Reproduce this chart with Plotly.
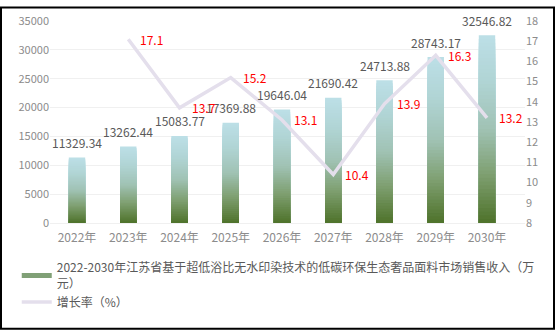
import plotly.graph_objects as go
import numpy as np

categories = ["2022年", "2023年", "2024年", "2025年", "2026年", "2027年", "2028年", "2029年", "2030年"]
revenue = [11329.34, 13262.44, 15083.77, 17369.88, 19646.04, 21690.42, 24713.88, 28743.17, 32546.82]
growth_years = ["2023年", "2024年", "2025年", "2026年", "2027年", "2028年", "2029年", "2030年"]
growth = [17.1, 13.7, 15.2, 13.1, 10.4, 13.9, 16.3, 13.2]

bar_name = "2022-2030年江苏省基于超低浴比无水印染技术的低碳环保生态奢品面料市场销售收入（万<br>元）"
line_name = "增长率（%）"

FONT = "Microsoft YaHei, Noto Sans CJK SC, sans-serif"

# gradient stops (fraction of bar height from bottom -> colour)
stops = [(0.0, (78, 114, 42)), (0.25, (125, 158, 110)), (0.5, (160, 194, 180)), (0.75, (176, 212, 212)), (1.0, (188, 223, 231))]

def grad_color(t):
    for (t0, c0), (t1, c1) in zip(stops[:-1], stops[1:]):
        if t <= t1:
            f = (t - t0) / (t1 - t0) if t1 > t0 else 0
            c = [round(a + (b - a) * f) for a, b in zip(c0, c1)]
            return "rgb(%d,%d,%d)" % tuple(c)
    return "rgb(%d,%d,%d)" % stops[-1][1]

N = 50
rev = np.array(revenue)
fig = go.Figure()
# overlaid bars, tallest (top colour) first, each shorter one drawn on top -> vertical gradient
for k in range(N):
    frac = (N - k) / N
    t = (N - k - 0.5) / N
    fig.add_trace(go.Bar(
        x=categories, y=rev * frac,
        marker=dict(color=grad_color(t), line=dict(width=0)),
        width=0.32, name=bar_name, legendgroup="bar",
        showlegend=False, hoverinfo="skip",
    ))

# legend entry for the bar series (thin wide swatch like the reference)
fig.add_trace(go.Scatter(
    x=[None], y=[None], mode="lines", name=bar_name, legendgroup="bar",
    line=dict(color="rgb(128,160,118)", width=5), hoverinfo="skip",
))

for xv, v in zip(categories, revenue):
    fig.add_annotation(x=xv, y=v, text=f"{v:.2f}", showarrow=False,
                       xanchor="center", yanchor="middle", yshift=15,
                       font=dict(family=FONT, size=12, color="#595959"))

fig.add_trace(go.Scatter(
    x=growth_years, y=growth, mode="lines", yaxis="y2", name=line_name,
    line=dict(color="#e4dfec", width=3.5),
))

for xv, yv in zip(growth_years, growth):
    fig.add_annotation(x=xv, y=yv, yref="y2", text=f"{yv}", showarrow=False,
                       xanchor="left", yanchor="middle", xshift=10,
                       font=dict(family=FONT, size=12, color="#ff0000"))

fig.update_layout(
    width=555, height=333,
    margin=dict(l=50, r=30, t=15, b=110),
    paper_bgcolor="white", plot_bgcolor="white",
    barmode="overlay", bargap=0.68,
    font=dict(family=FONT, size=12, color="#595959"),
    xaxis=dict(type="category", categoryorder="array", categoryarray=categories,
               showgrid=False, showline=True, linecolor="#f0f0f0", ticks="",
               tickfont=dict(size=12, color="#8c8c8c"), ticklabelstandoff=4),
    yaxis=dict(range=[0, 35000], dtick=5000, tickformat="d", showgrid=True, gridcolor="#f0f0f0",
               zeroline=False, tickfont=dict(size=11, color="#8c8c8c"), ticks=""),
    yaxis2=dict(range=[8, 18], dtick=1, overlaying="y", side="right", showgrid=False,
                zeroline=False, tickfont=dict(size=11, color="#8c8c8c"), ticks=""),
    legend=dict(orientation="v", x=-0.07, xanchor="left", y=-0.15, yanchor="top",
                font=dict(family=FONT, size=12, color="#595959"), traceorder="normal",
                bgcolor="rgba(0,0,0,0)"),
    showlegend=True,
)

pw, ph = 475, 208
fig.add_shape(type="rect", xref="paper", yref="paper",
              x0=-49 / pw, x1=1 + 29 / pw, y0=-109 / ph, y1=1 + 14 / ph,
              line=dict(color="black", width=2), fillcolor="rgba(0,0,0,0)", layer="above")

fig.write_html("out.html")
